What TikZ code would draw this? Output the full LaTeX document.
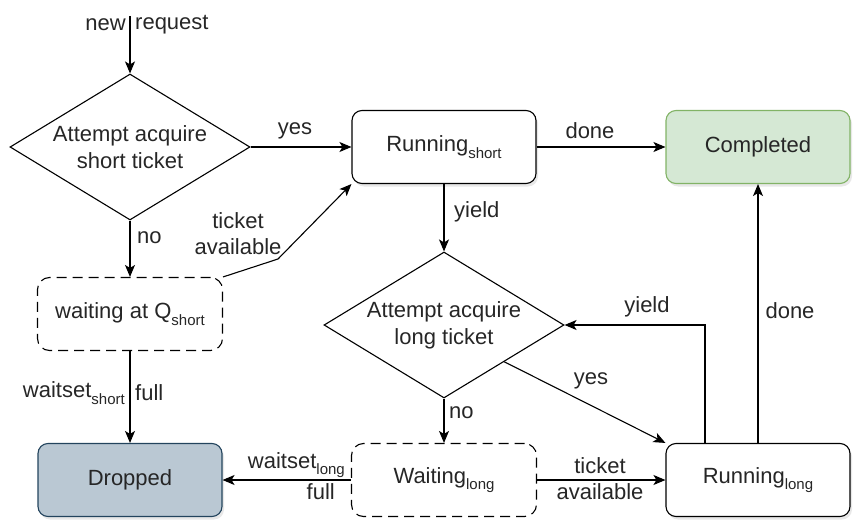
\documentclass[tikz,border=0pt]{standalone}
\usepackage{fontspec}
\setmainfont{Liberation Sans}
\usetikzlibrary{arrows.meta,shapes.geometric,shadows}
\newcommand{\lo}[1]{\raisebox{-0.3em}{\fontsize{15}{15}\selectfont #1}}
\definecolor{cfill}{HTML}{D5E8D4}
\definecolor{cdraw}{HTML}{82B366}
\definecolor{dfill}{HTML}{BAC8D3}
\definecolor{ddraw}{HTML}{23445D}
\tikzset{
  base/.style={font=\fontsize{22}{27}\selectfont, text=black!85, line width=1.1pt},
  box/.style={base, draw, rounded corners=10pt, minimum width=184pt, minimum height=73pt, inner sep=0pt,
     fill=white, drop shadow={opacity=0.18, shadow xshift=2pt, shadow yshift=-3pt}},
  dbox/.style={base, draw, dash pattern=on 10pt off 6pt, rounded corners=12pt, minimum width=185pt, minimum height=73pt, inner sep=0pt},
  dia/.style={base, draw, diamond, aspect=1.64, inner sep=0pt, minimum width=240pt, minimum height=146pt, align=center},
  arr/.style={line width=1.1pt, -{Stealth[length=12pt,width=10pt,inset=3pt]}},
  lbl/.style={font=\fontsize{22}{26}\selectfont, text=black!85, inner sep=1pt, align=center}
}
\begin{document}
\begin{tikzpicture}[x=1pt,y=-1pt]
\useasboundingbox (0,0) rectangle (865,532);
% nodes
\node[dia] (d1) at (130,147) {Attempt acquire\\short ticket};
\node[box] (runS) at (444,147) {Running\lo{short}};
\node[box, fill=cfill, draw=cdraw] (done) at (758,147) {Completed};
\node[dbox] (waitS) at (130,314) {waiting at Q\lo{short}};
\node[dia] (d2) at (444,325) {Attempt acquire\\long ticket};
\node[box, fill=dfill, draw=ddraw] (drop) at (130,480) {Dropped};
\node[dbox] (waitL) at (444,480) {Waiting\lo{long}};
\node[box] (runL) at (758,480) {Running\lo{long}};
\coordinate (start) at (130,16);
\coordinate (bend) at (278,259);
% connectors
\draw[arr] (start) -- (d1.north);
\node[lbl, anchor=east] (lnew) at (127,25) {new};
\node[lbl, anchor=west] (lreq) at (134,25) {request};
\draw[arr] (d1.east) -- (runS.west);
\node[lbl] (lyes1) at (295,131) {yes};
\draw[arr] (runS.east) -- (done.west);
\node[lbl] (ldone1) at (590,131) {done};
\draw[arr] (d1.south) -- (waitS.north);
\node[lbl, anchor=west] (lno1) at (136,238) {no};
\draw[arr] (waitS.north east) -- (bend) -- (runS.south west);
\node[lbl] (lta1) at (238,234) {ticket\\available};
\draw[arr] (waitS.south) -- (drop.north);
\node[lbl, anchor=east] (lws) at (126,393) {waitset\lo{short}};
\node[lbl, anchor=west] (lfull1) at (134,393) {full};
\draw[arr] (runS.south) -- (d2.north);
\node[lbl, anchor=west] (lyield1) at (453,212) {yield};
\draw[arr] (d2.south) -- (waitL.north);
\node[lbl, anchor=west] (lno2) at (448,413) {no};
\draw[arr] (d2.south east) -- (runL.north west);
\node[lbl] (lyes2) at (591,381) {yes};
\draw[arr] ([xshift=-53pt]runL.north) |- (d2.east);
\node[lbl] (lyield2) at (647,307) {yield};
\draw[arr] (runL.north) -- (done.south);
\node[lbl] (ldone2) at (790,311) {done};
\draw[arr] (waitL.east) -- (runL.west);
\node[lbl] (lta2) at (600,479) {ticket\\available};
\draw[arr] (waitL.west) -- (drop.east);
\node[lbl, anchor=east] (lwl) at (346,465) {waitset\lo{long}};
\node[lbl, anchor=east] (lfull2) at (336,492) {full};
\end{tikzpicture}
\end{document}
